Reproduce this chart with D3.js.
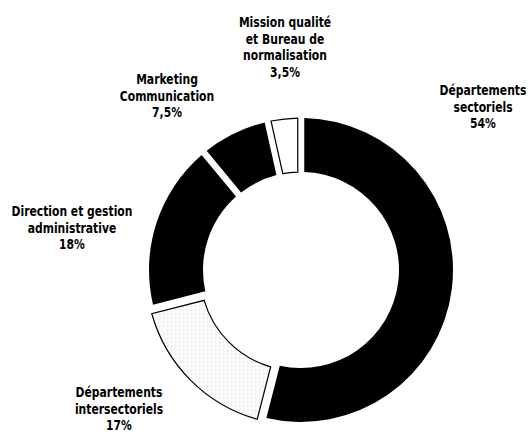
<!DOCTYPE html>
<html>
<head>
<meta charset="utf-8">
<script src="https://cdn.jsdelivr.net/npm/d3@7"></script>
<style>
  html, body { margin: 0; padding: 0; background: #fff; }
  svg { display: block; }
  .lbl { font-family: "DejaVu Sans", sans-serif; font-weight: bold; font-size: 13.5px; fill: #000; }
</style>
</head>
<body>
<script>
// data
var categories = ["Départements sectoriels", "Départements intersectoriels", "Direction et gestion administrative", "Marketing Communication", "Mission qualité et Bureau de normalisation"];
var values = [54, 17, 18, 7.5, 3.5];
var valueLabels = ["54%", "17%", "18%", "7,5%", "3,5%"];
var labelLines = [
	["Départements", "sectoriels"],
	["Départements", "intersectoriels"],
	["Direction et gestion", "administrative"],
	["Marketing", "Communication"],
	["Mission qualité", "et Bureau de", "normalisation"]
];

var width = 528, height = 439,
	cx = 301, cy = 270,
	outerR = 152, innerR = 98;

// where each label block sits (x = centre, y = first baseline)
var labelPos = [[483, 95], [119, 397], [72, 216], [167, 84], [285, 27]];
var lineH = 16.6;

var fill = d3.scaleOrdinal()
	.domain(categories)
	.range(["#000", "url(#stipple)", "#000", "#000", "#fff"]);
var explode = d3.scaleOrdinal()
	.domain(categories)
	.range([0, 4, 0, 0, 0]);

var svg = d3.select("body").append("svg")
	.attr("width", width)
	.attr("height", height);

// light dotted fill, like the scanned screen tone
var pat = svg.append("defs").append("pattern")
	.attr("id", "stipple")
	.attr("patternUnits", "userSpaceOnUse")
	.attr("width", 4).attr("height", 4);
pat.append("rect").attr("width", 4).attr("height", 4).style("fill", "#fafafa");
pat.append("rect").attr("x", 1).attr("y", 1).attr("width", 1).attr("height", 1).style("fill", "#d8d8d8");

var pie = d3.pie()
	.sort(null)
	.value(function(d) { return d.v; });

var arc = d3.arc()
	.innerRadius(innerR)
	.outerRadius(outerR)
	.padAngle(0.036);

var data = categories.map(function(c, i) { return {c: c, v: values[i], i: i}; });

var g = svg.append("g")
	.attr("transform", "translate(" + cx + "," + cy + ")");

g.selectAll("path.slice")
	.data(pie(data))
	.enter().append("path")
	.attr("class", "slice")
	.attr("transform", function(d) {
		var a = (d.startAngle + d.endAngle) / 2, e = explode(d.data.c);
		return "translate(" + (Math.sin(a) * e) + "," + (-Math.cos(a) * e) + ")";
	})
	.attr("d", arc)
	.style("fill", function(d) { return fill(d.data.c); })
	.style("stroke", "#000")
	.style("stroke-width", function(d) { return fill(d.data.c) == "#000" ? 0 : 1.2; });

// squeeze the font so it looks condensed like the original
var probe = svg.append("text").attr("class", "lbl").text("Direction et gestion");
var sx = 121 / probe.node().getComputedTextLength();
probe.remove();

// labels
categories.forEach(function(c, i) {
	var lines = labelLines[i].concat([valueLabels[i]]);
	var t = svg.append("text")
		.attr("class", "lbl")
		.attr("text-anchor", "middle")
		.attr("transform", "translate(" + labelPos[i][0] + "," + labelPos[i][1] + ") scale(" + sx + ",1)");
	t.selectAll("tspan")
		.data(lines)
		.enter().append("tspan")
		.attr("x", 0)
		.attr("dy", function(d, j) { return j ? lineH : 0; })
		.text(function(d) { return d; });
});
</script>
</body>
</html>
